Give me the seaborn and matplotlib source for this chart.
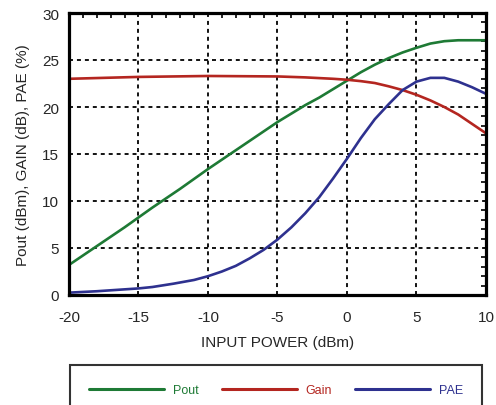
import numpy as np
import pandas as pd
import matplotlib
matplotlib.use("Agg")
import matplotlib.pyplot as plt
import seaborn as sns
from matplotlib.ticker import MultipleLocator

# ---- data ----
pout_x = [-20, -18, -16, -14, -12, -10, -8, -6, -5, -4, -3, -2, -1, 0, 1, 2, 3, 4, 5, 6, 7, 8, 9, 10]
pout_y = [3.2, 5.2, 7.2, 9.3, 11.3, 13.4, 15.4, 17.4, 18.4, 19.3, 20.2, 21.0, 21.9, 22.8, 23.7,
          24.5, 25.2, 25.8, 26.3, 26.75, 27.0, 27.1, 27.1, 27.1]

gain_x = [-20, -15, -10, -5, -3, -1, 0, 1, 2, 3, 4, 5, 6, 7, 8, 9, 10]
gain_y = [23.0, 23.2, 23.3, 23.25, 23.15, 23.0, 22.9, 22.75, 22.55, 22.2, 21.8, 21.3, 20.7,
          20.0, 19.2, 18.2, 17.2]

pae_x = [-20, -18, -16, -15, -14, -12.5, -11, -10, -9, -8, -7, -6, -5, -4, -3, -2, -1, 0,
         1, 2, 3, 4, 5, 6, 7, 8, 9, 10]
pae_y = [0.25, 0.4, 0.6, 0.7, 0.85, 1.2, 1.6, 2.0, 2.5, 3.1, 3.9, 4.8, 5.9, 7.2, 8.7, 10.4,
         12.4, 14.5, 16.7, 18.7, 20.3, 21.8, 22.7, 23.1, 23.1, 22.7, 22.1, 21.4]

series_names = ["Pout", "Gain", "PAE"]
colors = ["#1e7a35", "#b42620", "#2e318f"]
x_ticks = [-20, -15, -10, -5, 0, 5, 10]
y_ticks = [0, 5, 10, 15, 20, 25, 30]

df = pd.concat([
    pd.DataFrame({"x": pout_x, "y": pout_y, "s": "Pout"}),
    pd.DataFrame({"x": gain_x, "y": gain_y, "s": "Gain"}),
    pd.DataFrame({"x": pae_x, "y": pae_y, "s": "PAE"}),
], ignore_index=True)

sns.set_style("white")
plt.rcParams["font.family"] = ["Liberation Sans", "DejaVu Sans"]

fig = plt.figure(figsize=(4.96, 4.06), dpi=100)
ax = fig.add_axes([69 / 496, 1 - 296 / 406, (486 - 69) / 496, (296 - 14) / 406])

sns.lineplot(data=df, x="x", y="y", hue="s", hue_order=series_names,
             palette=colors, linewidth=1.9, ax=ax, legend=False, sort=False)

ax.set_xlim(-20, 10)
ax.set_ylim(0, 30)
ax.set_xticks(x_ticks)
ax.set_yticks(y_ticks)
ax.set_xticklabels([str(t) for t in x_ticks], fontsize=11)
ax.set_yticklabels([str(t) for t in y_ticks], fontsize=11)
ax.xaxis.set_minor_locator(MultipleLocator(1))
ax.yaxis.set_minor_locator(MultipleLocator(1))
ax.tick_params(which="both", direction="in", top=True, right=True, color="black")
ax.tick_params(which="major", length=0)
ax.tick_params(axis="x", which="major", pad=11)
ax.tick_params(axis="y", which="major", pad=7)
ax.tick_params(which="minor", length=3.5, width=1.2)
ax.grid(True, which="major", color="black", linestyle=(0, (2.2, 2.2)), linewidth=1.3)
ax.set_axisbelow(True)
for sp in ax.spines.values():
    sp.set_color("black")
    sp.set_linewidth(2.3)

ax.set_xlabel("INPUT POWER (dBm)", fontsize=11, labelpad=8)
ax.set_ylabel("Pout (dBm), GAIN (dB), PAE (%)", fontsize=11, labelpad=9)

handles = [plt.Line2D([], [], color=c, linewidth=2.2) for c in colors]
leg = fig.legend(handles, series_names, loc="upper left",
                 bbox_to_anchor=(70 / 496, 1 - 366 / 406, (482 - 70) / 496, 0.0),
                 mode="expand", ncol=3, fontsize=9, frameon=True, fancybox=False,
                 handlelength=6.0, handletextpad=0.65, borderpad=1.55, borderaxespad=0,
                 columnspacing=2.0)
leg.get_frame().set_edgecolor("black")
leg.get_frame().set_linewidth(1.5)
for t, c in zip(leg.get_texts(), colors):
    t.set_color(c)

fig.savefig("out.png", dpi=100)
